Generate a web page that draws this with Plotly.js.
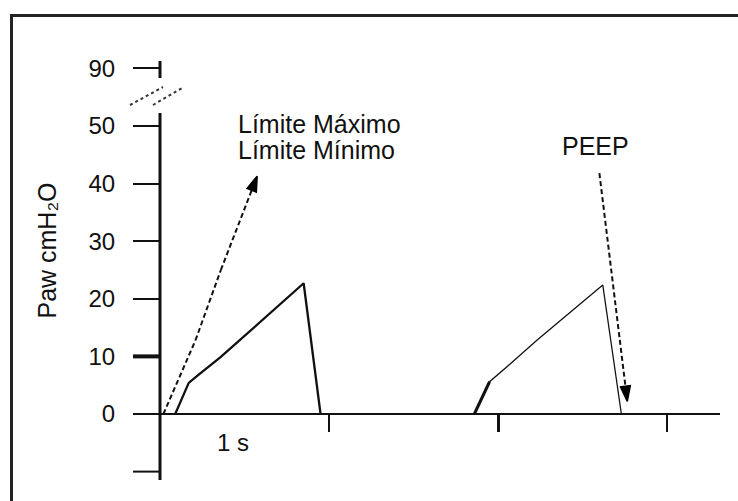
<!DOCTYPE html>
<html><head><meta charset="utf-8">
<script src="https://cdn.plot.ly/plotly-3.0.1.min.js"></script>
<style>html,body{margin:0;padding:0;background:#fff}#chart{width:738px;height:501px}</style>
</head><body><div id="chart"></div>
<script>
// ---- data (time in s, airway pressure in cmH2O) ----
const breath1Time = [0.09, 0.17, 0.22, 0.36, 0.85, 0.95];
const breath1Paw  = [0, 5.4, 6.6, 9.9, 22.7, 0];
const limitTime   = [0.02, 0.21, 0.36, 0.575];
const limitPaw    = [0, 12.8, 25.0, 41.3];
const breath2Time = [1.86, 1.95, 2.08, 2.23, 2.62, 2.73];
const breath2Paw  = [0, 5.6, 8.9, 12.8, 22.4, 0];
const peepTime    = [2.60, 2.72, 2.765];
const peepPaw     = [41.8, 12.8, 2.2];
const yTickVals   = [0, 10, 20, 30, 40, 50, 60];
const yTickText   = ['0', '10', '20', '30', '40', '50', '90'];
const yBareTick   = -10;
const xTickVals   = [1, 2, 3];
const labelLimitMax = 'Límite Máximo';
const labelLimitMin = 'Límite Mínimo';
const labelPeep     = 'PEEP';
const labelSecond   = '1 s';
const yTitle        = 'Paw cmH\u2082O';

// ---- geometry ----
const W = 738, H = 501;
const originPx = 160, pxPerSec = 169, zeroPy = 414, pxPerUnit = 5.76;
const xRange = [-originPx / pxPerSec, (W - originPx) / pxPerSec];
const yRange = [(zeroPy - H) / pxPerUnit, zeroPy / pxPerUnit];
const px2x = p => (p - originPx) / pxPerSec;
const py2y = p => (zeroPy - p) / pxPerUnit;
const xAxisEnd = px2x(720);
const ink = '#111';
const font = {family: 'Arial, "Liberation Sans", "DejaVu Sans", sans-serif', size: 24, color: ink};
const bigFont = {family: font.family, size: 25, color: ink};

function arrowMarker(n, size) {
  return {symbol: 'arrow', angleref: 'previous', color: '#000', opacity: 1, line: {color: '#000', width: 1.5},
          size: Array.from({length: n}, (_, i) => i === n - 1 ? size : 0)};
}

const traces = [
  {x: breath1Time, y: breath1Paw, mode: 'lines', line: {color: ink, width: 2.3}},
  {x: limitTime, y: limitPaw, mode: 'lines+markers',
   line: {color: ink, width: 2, dash: '5px,3px'}, marker: arrowMarker(limitTime.length, 16)},
  {x: breath2Time, y: breath2Paw, mode: 'lines', line: {color: ink, width: 1.3}},
  {x: breath2Time.slice(0, 2), y: breath2Paw.slice(0, 2), mode: 'lines', line: {color: ink, width: 3}},
  {x: peepTime, y: peepPaw, mode: 'lines+markers',
   line: {color: ink, width: 2, dash: '5px,3px'}, marker: arrowMarker(peepTime.length, 16)}
];

const tickStartX = px2x(133);
const shapes = [
  // picture frame (top and left)
  {type: 'path', xref: 'paper', yref: 'paper',
   path: `M ${11.5/W} 0 L ${11.5/W} ${1-15.5/H} L 1 ${1-15.5/H}`,
   line: {color: '#222', width: 3}},
  // y axis (broken)
  {type: 'line', xref: 'x', yref: 'y', x0: 0, x1: 0, y0: py2y(480), y1: py2y(113), line: {color: ink, width: 3}},
  {type: 'line', xref: 'x', yref: 'y', x0: 0, x1: 0, y0: py2y(78), y1: py2y(61), line: {color: ink, width: 3}},
  // break marks
  {type: 'line', xref: 'x', yref: 'y', x0: px2x(130), y0: py2y(105), x1: px2x(163), y1: py2y(87), line: {color: '#333', width: 2, dash: 'dot'}},
  {type: 'line', xref: 'x', yref: 'y', x0: px2x(153), y0: py2y(105), x1: px2x(184), y1: py2y(87), line: {color: '#333', width: 2, dash: 'dot'}},
  // x axis
  {type: 'line', xref: 'x', yref: 'y', x0: 0, x1: xAxisEnd, y0: 0, y1: 0, line: {color: ink, width: 2}},
  // heavier 10 tick and unlabeled -10 tick
  {type: 'line', xref: 'x', yref: 'y', x0: tickStartX, x1: 0, y0: 10, y1: 10, line: {color: ink, width: 4}},
  {type: 'line', xref: 'x', yref: 'y', x0: tickStartX, x1: 0, y0: yBareTick, y1: yBareTick, line: {color: ink, width: 2}}
];

const layout = {
  width: W, height: H,
  margin: {l: 0, r: 0, t: 0, b: 0},
  paper_bgcolor: '#fff', plot_bgcolor: '#fff',
  showlegend: false, hovermode: false,
  font: font,
  xaxis: {range: xRange, anchor: 'free', position: (0 - yRange[0]) / (yRange[1] - yRange[0]),
          showgrid: false, zeroline: false, showline: false, showticklabels: false,
          tickmode: 'array', tickvals: [xTickVals[1]], ticks: 'outside', ticklen: 17, tickwidth: 3, tickcolor: ink,
          minor: {tickmode: 'array', tickvals: [xTickVals[0], xTickVals[2]], ticks: 'outside', ticklen: 17, tickwidth: 1.5, tickcolor: ink, showgrid: false},
          fixedrange: true},
  yaxis: {range: yRange, anchor: 'free', position: (0 - xRange[0]) / (xRange[1] - xRange[0]), side: 'left',
          showgrid: false, zeroline: false, showline: false,
          tickmode: 'array', tickvals: yTickVals, ticktext: yTickText,
          ticks: 'outside', ticklen: 27, tickwidth: 2, tickcolor: ink, ticklabelstandoff: 13,
          tickfont: font, automargin: false,
          title: {text: yTitle, font: bigFont, standoff: 23},
          fixedrange: true},
  shapes: shapes,
  annotations: [
    {xref: 'x', yref: 'y', x: px2x(236), y: py2y(124), text: labelLimitMax, showarrow: false, xanchor: 'left', yanchor: 'middle', font: bigFont},
    {xref: 'x', yref: 'y', x: px2x(236), y: py2y(150), text: labelLimitMin, showarrow: false, xanchor: 'left', yanchor: 'middle', font: bigFont},
    {xref: 'x', yref: 'y', x: px2x(595), y: py2y(146), text: labelPeep, showarrow: false, xanchor: 'center', yanchor: 'middle', font: bigFont},
    {xref: 'x', yref: 'y', x: px2x(233), y: py2y(442), text: labelSecond, showarrow: false, xanchor: 'center', yanchor: 'middle', font: font}
  ]
};

Plotly.newPlot('chart', traces, layout, {displayModeBar: false, staticPlot: true}).then(() => {
  // drop empty placeholder / measurement text nodes
  document.querySelectorAll('text, tspan').forEach(t => { if (!t.textContent.trim()) t.remove(); });
  document.querySelectorAll('svg.js-plotly-tester').forEach(s => s.remove());
});
</script></body></html>
